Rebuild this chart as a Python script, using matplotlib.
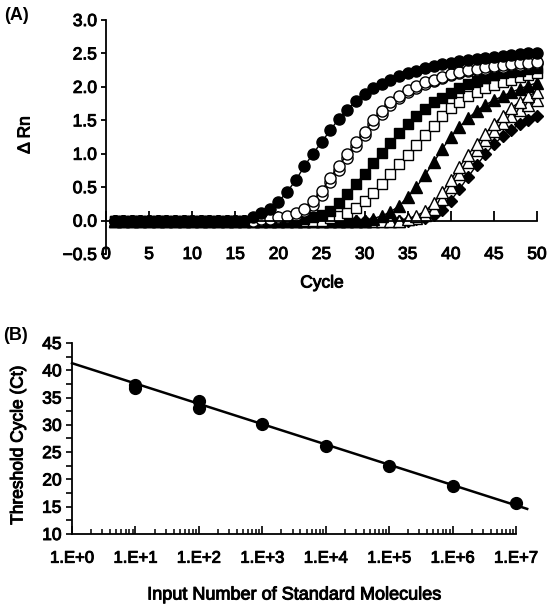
import matplotlib
matplotlib.use("Agg")
import matplotlib.pyplot as plt
import matplotlib.patheffects as pe
from matplotlib.ticker import FixedLocator, NullFormatter

plt.rcParams['font.family'] = ['Liberation Sans', 'DejaVu Sans']

# ---- (A) amplification curves, delta Rn per cycle ----
cycles = list(range(1, 51))

filled_circle = [0.0] * 16 + [0.06, 0.11, 0.17, 0.28, 0.43, 0.60, 0.81, 1.00, 1.17, 1.35,
                              1.52, 1.66, 1.79, 1.90, 1.98, 2.05, 2.11, 2.16, 2.20, 2.24,
                              2.28, 2.31, 2.34, 2.36, 2.38, 2.40, 2.42, 2.43, 2.45, 2.46,
                              2.48, 2.49, 2.50, 2.51]
open_circle_1 = [0.0] * 17 + [0.02, 0.03, 0.05, 0.07, 0.11, 0.17, 0.29, 0.44, 0.64, 0.82,
                              0.99, 1.17, 1.33, 1.50, 1.64, 1.77, 1.86, 1.95, 2.01, 2.07,
                              2.11, 2.15, 2.19, 2.22, 2.25, 2.27, 2.29, 2.31, 2.32, 2.34,
                              2.35, 2.36, 2.37]
open_circle_2 = [0.0] * 17 + [0.01, 0.02, 0.04, 0.06, 0.09, 0.14, 0.24, 0.38, 0.57, 0.76,
                              0.94, 1.12, 1.28, 1.45, 1.60, 1.73, 1.83, 1.92, 1.99, 2.05,
                              2.09, 2.13, 2.17, 2.20, 2.23, 2.25, 2.27, 2.29, 2.30, 2.32,
                              2.33, 2.34, 2.35]
filled_square = [0.0] * 22 + [0.03, 0.05, 0.08, 0.14, 0.26, 0.40, 0.55, 0.70, 0.86, 1.01,
                              1.16, 1.31, 1.45, 1.57, 1.67, 1.77, 1.84, 1.91, 1.98, 2.04,
                              2.09, 2.13, 2.17, 2.20, 2.22, 2.24, 2.26, 2.28]
open_square = [0.0] * 25 + [0.04, 0.07, 0.12, 0.19, 0.30, 0.41, 0.55, 0.69, 0.84, 0.98,
                            1.13, 1.28, 1.42, 1.56, 1.68, 1.78, 1.86, 1.93, 1.98, 2.03,
                            2.07, 2.11, 2.14, 2.17, 2.20]
filled_triangle = [0.0] * 30 + [0.03, 0.07, 0.13, 0.22, 0.35, 0.50, 0.68, 0.87, 1.07, 1.25,
                                1.40, 1.53, 1.64, 1.73, 1.80, 1.86, 1.92, 1.97, 2.02, 2.06]
open_triangle_1 = [0.0] * 34 + [0.03, 0.07, 0.14, 0.26, 0.42, 0.61, 0.80, 0.98, 1.15, 1.30,
                                1.44, 1.57, 1.68, 1.78, 1.86, 1.93]
open_triangle_2 = [0.0] * 34 + [0.02, 0.04, 0.09, 0.18, 0.32, 0.50, 0.69, 0.88, 1.05, 1.20,
                                1.34, 1.46, 1.56, 1.65, 1.73, 1.80]
filled_diamond = [0.0] * 35 + [0.02, 0.04, 0.08, 0.16, 0.30, 0.47, 0.65, 0.83, 0.99, 1.14,
                               1.26, 1.36, 1.44, 1.51, 1.57]

# ---- (B) standard curve ----
input_copies = [1e1, 1e1, 1e2, 1e2, 1e3, 1e4, 1e5, 1e6, 1e7]
threshold_ct = [37.3, 36.8, 34.3, 33.1, 30.1, 26.2, 22.4, 18.8, 15.6]
fit_x = [1, 1.5e7]
fit_y = [41.3, 14.6]
decade_labels = ['1.E+0', '1.E+1', '1.E+2', '1.E+3', '1.E+4', '1.E+5', '1.E+6', '1.E+7']

W, H = 551, 609
fig = plt.figure(figsize=(W / 100, H / 100), dpi=100)
heavy = [pe.withStroke(linewidth=0.7, foreground='black')]

# panel A
ax1 = fig.add_axes([106 / W, 1 - 254 / H, 431 / W, 234 / H])
# (values, marker, face colour, size), latest curve drawn first
series = [
    (filled_diamond, 'D', 'black', 6.5),
    (open_triangle_2, '^', 'white', 8.5),
    (open_triangle_1, '^', 'white', 8.5),
    (filled_triangle, '^', 'black', 8.5),
    (open_square, 's', 'white', 7.5),
    (filled_square, 's', 'black', 7.5),
    (open_circle_2, 'o', 'white', 8),
    (open_circle_1, 'o', 'white', 8),
    (filled_circle, 'o', 'black', 8),
]
for vals, mk, fc, ms in series:
    ax1.plot(cycles, vals, color='black', lw=1.0, marker=mk, ms=ms,
             mfc=fc, mec='black', mew=1.0, clip_on=False)

ax1.set_xlim(0, 50)
ax1.set_ylim(-0.5, 3.0)
ax1.spines['top'].set_visible(False)
ax1.spines['right'].set_visible(False)
ax1.spines['bottom'].set_position(('data', 0))
ax1.spines['left'].set_linewidth(1.3)
ax1.spines['bottom'].set_linewidth(1.3)
ax1.set_xticks(range(0, 51, 5))
ax1.set_yticks([-0.5, 0.0, 0.5, 1.0, 1.5, 2.0, 2.5, 3.0])
ax1.set_yticklabels(['\u22120.5', '0.0', '0.5', '1.0', '1.5', '2.0', '2.5', '3.0'])
ax1.tick_params(axis='x', direction='in', length=7, width=1.3, pad=19, labelsize=12.5)
ax1.tick_params(axis='y', direction='out', length=3.5, width=1.3, pad=3, labelsize=12.5)
fig.text(322 / W, 1 - 283 / H, 'Cycle', ha='center', va='center', fontsize=12.5,
         path_effects=heavy)
fig.text(25 / W, 1 - 135 / H, '\u0394 Rn', ha='center', va='center', rotation=90,
         fontsize=12.5, path_effects=heavy)
fig.text(4 / W, 1 - 15 / H, '(A)', ha='left', va='center', fontsize=13,
         fontweight='bold')

# panel B
ax2 = fig.add_axes([72 / W, 1 - 534 / H, 444 / W, 191 / H])
ax2.set_xscale('log')
ax2.plot(fit_x, fit_y, color='black', lw=1.8, clip_on=False)
ax2.plot(input_copies, threshold_ct, 'o', color='black', ms=8.5, clip_on=False)
ax2.set_xlim(1, 1e7)
ax2.set_ylim(10, 45)
ax2.spines['top'].set_visible(False)
ax2.spines['right'].set_visible(False)
ax2.spines['left'].set_linewidth(1.3)
ax2.spines['bottom'].set_linewidth(1.3)
ax2.xaxis.set_major_locator(FixedLocator([10.0 ** k for k in range(8)]))
ax2.set_xticklabels(decade_labels)
ax2.xaxis.set_minor_locator(FixedLocator(
    [m * 10.0 ** k for k in range(7) for m in range(2, 10)]))
ax2.xaxis.set_minor_formatter(NullFormatter())
ax2.set_yticks(range(10, 46, 5))
ax2.yaxis.set_minor_locator(FixedLocator([12.5, 17.5, 22.5, 27.5, 32.5, 37.5, 42.5]))
ax2.tick_params(axis='x', which='major', direction='in', length=6, width=1.2, pad=12,
                labelsize=12)
ax2.tick_params(axis='x', which='minor', direction='in', length=3.5, width=1.1)
ax2.tick_params(axis='y', which='both', direction='out', length=4, width=1.2,
                labelsize=12.5)
fig.text(294 / W, 1 - 595 / H, 'Input Number of Standard Molecules', ha='center',
         va='center', fontsize=13, path_effects=heavy)
fig.text(18 / W, 1 - 445 / H, 'Threshold Cycle (Ct)', ha='center', va='center',
         rotation=90, fontsize=12.5, path_effects=heavy)
fig.text(3 / W, 1 - 335 / H, '(B)', ha='left', va='center', fontsize=13,
         fontweight='bold')

for ax in (ax1, ax2):
    for lab in ax.get_xticklabels() + ax.get_yticklabels():
        lab.set_path_effects(heavy)

fig.savefig('out.png', dpi=100)
